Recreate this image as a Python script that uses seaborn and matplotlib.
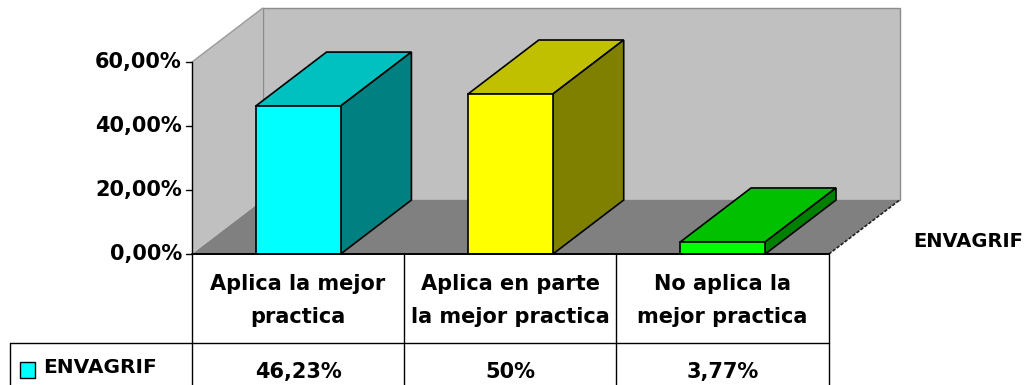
import matplotlib
matplotlib.use("Agg")
import matplotlib.pyplot as plt
import seaborn as sns
import pandas as pd
from matplotlib.patches import Polygon, Rectangle

# Data
categories = ["Aplica la mejor practica", "Aplica en parte la mejor practica", "No aplica la mejor practica"]
header_labels = ["Aplica la mejor\npractica", "Aplica en parte\nla mejor practica", "No aplica la\nmejor practica"]
values = [0.4623, 0.50, 0.0377]
value_labels = ["46,23%", "50%", "3,77%"]
series_name = "ENVAGRIF"
y_ticks = [0.0, 0.2, 0.4, 0.6]

front_colors = ["#00FFFF", "#FFFF00", "#00FF00"]
top_colors = ["#00C0C0", "#C0C000", "#00C000"]
side_colors = ["#008080", "#808000", "#008000"]

df = pd.DataFrame({"cat": categories, "val": values})

# Layout: one axes over the whole figure, x = category index, y = value
fig = plt.figure(figsize=(10.33, 3.85), dpi=100)
sns.set_theme(style="white")
plt.rcParams["text.color"] = "black"
ax = fig.add_axes([0, 0, 1, 1])

sns.barplot(data=df, x="cat", y="val", hue="cat", palette=front_colors, saturation=1,
            width=0.4, edgecolor="black", linewidth=1.2, legend=False, ax=ax, zorder=5)

ax.set_xlim(-1.404, 3.462)
ax.set_ylim(-0.409, 0.794)
ax.axis("off")

dx, dy = 0.334, 0.169    # depth offset of the 3D box
x_left, x_right = -0.5, len(categories) - 0.5
y_top = max(y_ticks)

# walls and floor
left_wall = Polygon([(x_left, 0), (x_left + dx, dy), (x_left + dx, y_top + dy), (x_left, y_top)],
                    closed=True, facecolor="#C0C0C0", edgecolor="none", zorder=1)
back_wall = Polygon([(x_left + dx, dy), (x_right + dx, dy), (x_right + dx, y_top + dy), (x_left + dx, y_top + dy)],
                    closed=True, facecolor="#C0C0C0", edgecolor="#8C8C8C", linewidth=1, zorder=1)
floor = Polygon([(x_left, 0), (x_right, 0), (x_right + dx, dy), (x_left + dx, dy)],
                closed=True, facecolor="#808080", edgecolor="none", zorder=2)
for p in (left_wall, back_wall, floor):
    ax.add_patch(p)
ax.plot([x_left, x_left + dx], [y_top, y_top + dy], color="#9A9A9A", lw=1, zorder=2)
ax.plot([x_right, x_right + dx], [0, dy], color="#202020", lw=1.2, ls=(0, (2, 1)), zorder=2)

# bar tops and sides from the seaborn bars
bars = [p for p in ax.patches if p.get_zorder() == 5]
for i, bar in enumerate(bars):
    x0 = bar.get_x()
    x1 = x0 + bar.get_width()
    h = bar.get_height()
    top = Polygon([(x0, h), (x0 + dx, h + dy), (x1 + dx, h + dy), (x1, h)], closed=True,
                  facecolor=top_colors[i], edgecolor="black", linewidth=1.2, zorder=4)
    side = Polygon([(x1, 0), (x1 + dx, dy), (x1 + dx, h + dy), (x1, h)], closed=True,
                   facecolor=side_colors[i], edgecolor="black", linewidth=1.2, zorder=4)
    ax.add_patch(top)
    ax.add_patch(side)

txt = dict(fontweight="heavy", family="DejaVu Sans", color="black")

# value axis
tick_len = 0.028
ax.plot([x_left, x_left], [0, y_top], color="black", lw=1, zorder=6)
ax.plot([x_left, x_right], [0, 0], color="black", lw=1.4, zorder=6)
for t in y_ticks:
    ax.plot([x_left - tick_len, x_left], [t, t], color="black", lw=1, zorder=6)
    ax.text(x_left - 0.047, t, f"{t * 100:.2f}%".replace(".", ","), ha="right", va="center",
            fontsize=15, **txt)

# series label on the right
ax.text(2.9, 0.038, series_name, ha="left", va="center", fontsize=14, **txt)

# data table
row_line = -0.278
bottom = -0.409
legend_left = -1.357
for xb in [x_left + k for k in range(len(categories) + 1)]:
    ax.plot([xb, xb], [0, bottom], color="black", lw=1, zorder=6)
ax.plot([legend_left, x_right], [row_line, row_line], color="black", lw=1, zorder=6)
ax.plot([legend_left, legend_left], [row_line, bottom], color="black", lw=1, zorder=6)

for i, (lab, vl) in enumerate(zip(header_labels, value_labels)):
    ax.text(i, -0.146, lab, ha="center", va="center", fontsize=15,
            linespacing=1.8, **txt)
    ax.text(i, -0.369, vl, ha="center", va="center", fontsize=15, **txt)

ax.add_patch(Rectangle((-1.309, -0.3875), 0.0707, 0.05, facecolor=front_colors[0],
                       edgecolor="black", linewidth=1, zorder=6))
ax.text(-1.201, -0.353, series_name, ha="left", va="center", fontsize=14.5, **txt)

fig.savefig("out.png", dpi=100)
